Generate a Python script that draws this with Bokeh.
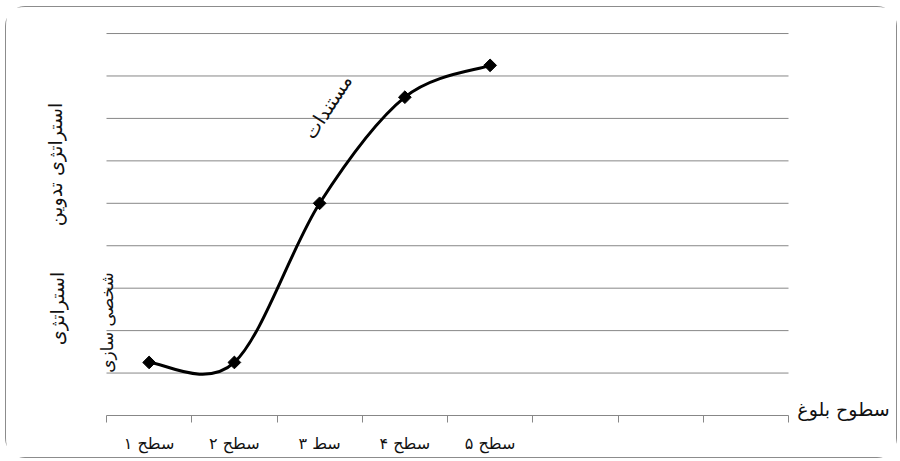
import numpy as np
from bokeh.plotting import figure
from bokeh.models import Range1d, FixedTicker
from bokeh.core.properties import value
from bokeh.embed import file_html
from bokeh.resources import INLINE

# ---- data ----
levels = ["سطح ۱", "سطح ۲", "سط ۳", "سطح ۴", "سطح ۵"]
n_slots = 8
values = [1.25, 1.25, 5.0, 7.5, 8.25]
grid_values = [1, 2, 3, 4, 5, 6, 7, 8, 9]
x_title = "سطوح بلوغ"
side_label_top = "استراتژی تدوین"
side_label_low = "استراتژی"
side_label_low2 = "شخصی سازی"
curve_label = "مستندات"

FONT = "DejaVu Sans"
GRAY = "#878787"

# ---- layout constants (page pixels) ----
W, H = 892, 452          # canvas size
OX, OY = 6, 7            # canvas origin on the page (margin + border)
CAT_LEFT_PX = 106        # left edge of first category
CAT_W = 85.25            # category width in px
AXIS_PX = 415            # y pixel of value 0
UNIT_Y = 42.44           # px per value unit

x_start = -0.5 - (CAT_LEFT_PX - OX) / CAT_W
x_end = x_start + W / CAT_W
y_end = (AXIS_PX - OY) / UNIT_Y
y_start = y_end - H / UNIT_Y


def dx(px):
    return (px - CAT_LEFT_PX) / CAT_W - 0.5


def dy(py):
    return (AXIS_PX - py) / UNIT_Y


xs = np.arange(len(values), dtype=float)
ys = np.array(values, dtype=float)

p = figure(width=W, height=H,
           x_range=Range1d(x_start, x_end),
           y_range=Range1d(y_start, y_end),
           output_backend="svg", toolbar_location=None,
           y_axis_location=None,
           min_border_left=0, min_border_right=0,
           min_border_top=0, min_border_bottom=0)
p.outline_line_color = None
p.styles = {"margin-left": "5px", "margin-top": "6px",
            "border": "1px solid #8c8c8c", "border-radius": "20px"}

# horizontal gridlines (bounded to the category area)
p.xgrid.visible = False
p.ygrid.visible = False
p.segment(x0=[-0.5] * len(grid_values), x1=[n_slots - 0.5] * len(grid_values),
          y0=grid_values, y1=grid_values, line_color=GRAY, line_width=1)

# x axis drawn at value 0
ax = p.xaxis[0]
ax.fixed_location = 0
ax.bounds = (-0.5, n_slots - 0.5)
ax.ticker = FixedTicker(ticks=list(range(len(levels))),
                        minor_ticks=[i - 0.5 for i in range(n_slots + 1)])
ax.major_label_overrides = {i: lbl for i, lbl in enumerate(levels)}
ax.axis_line_color = GRAY
ax.axis_line_width = 1
ax.major_tick_line_color = None
ax.major_tick_out = 0
ax.major_tick_in = 0
ax.minor_tick_line_color = GRAY
ax.minor_tick_out = 7
ax.minor_tick_in = 0
ax.major_label_standoff = 11
ax.major_label_text_font = FONT
ax.major_label_text_font_size = "16px"
ax.major_label_text_color = "#111111"

# smoothed line (Catmull-Rom -> cubic Bezier)
P = np.column_stack([xs, ys])
Pext = np.vstack([P[0], P, P[-1]])
x0, y0, x1, y1, cx0, cy0, cx1, cy1 = [], [], [], [], [], [], [], []
for i in range(len(P) - 1):
    p0, p1, p2, p3 = Pext[i], Pext[i + 1], Pext[i + 2], Pext[i + 3]
    c1 = p1 + (p2 - p0) / 6.0
    c2 = p2 - (p3 - p1) / 6.0
    x0.append(p1[0]); y0.append(p1[1]); x1.append(p2[0]); y1.append(p2[1])
    cx0.append(c1[0]); cy0.append(c1[1]); cx1.append(c2[0]); cy1.append(c2[1])
p.bezier(x0=x0, y0=y0, x1=x1, y1=y1, cx0=cx0, cy0=cy0, cx1=cx1, cy1=cy1,
         line_color="black", line_width=3)
p.scatter(xs, ys, marker="square", angle=np.pi / 4, size=9,
          fill_color="black", line_color="black")


def add_text(text, px, py, angle=0.0, size="16px"):
    p.text(x=[dx(px)], y=[dy(py)], text=[text], angle=angle,
           text_align="center", text_baseline="middle",
           text_font=value(FONT), text_font_size=size,
           text_color="#111111")


add_text(side_label_top, 54, 164, np.pi / 2, "19px")
add_text(side_label_low, 56, 308, np.pi / 2, "19px")
add_text(side_label_low2, 106, 322, np.pi / 2, "17px")
add_text(curve_label, 327, 106, np.deg2rad(57), "19px")
add_text(x_title, 843, 408, 0.0, "19px")

open("out.html", "w").write(file_html(p, INLINE))
